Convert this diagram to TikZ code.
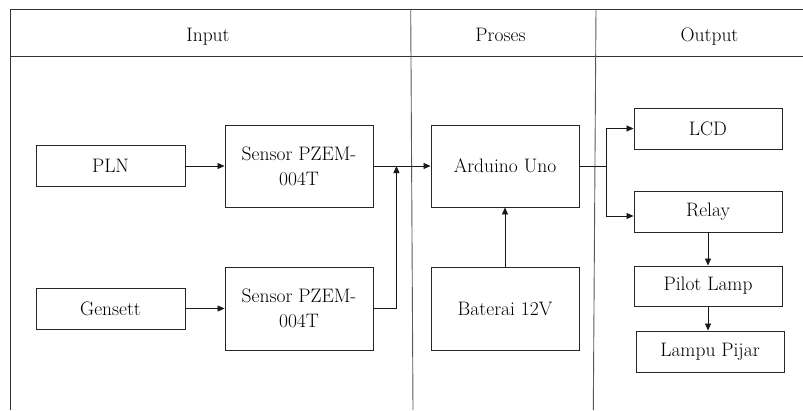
\documentclass[tikz,border=0pt]{standalone}
\usetikzlibrary{arrows.meta}
\begin{document}
\begin{tikzpicture}[x=1pt,y=-1pt,
  box/.style={draw=black!85,line width=0.9pt,rectangle,inner sep=0pt,minimum width=148pt,
    font=\fontsize{19.5}{25}\selectfont,align=center},
  hdr/.style={font=\fontsize{19.5}{25}\selectfont,anchor=base,inner sep=0pt},
  arr/.style={draw=black!90,line width=0.8pt,-{Triangle[length=7pt,width=6pt]}},
  frame/.style={draw=black!80,line width=0.9pt}]
\useasboundingbox (0,0) rectangle (803,410);
% frame
\coordinate (tl) at (10,9);
\coordinate (bl) at (10,410);
\coordinate (tr) at (803,9);
\coordinate (hl) at (10,56);
\coordinate (hr) at (803,56);
\coordinate (v1t) at (410.7,9);
\coordinate (v1b) at (413,410);
\coordinate (v2t) at (596,9);
\coordinate (v2b) at (593.3,410);
\draw[frame] (bl) -- (tl) -- (tr);
\draw[frame] (hl) -- (hr);
\draw[frame,draw=black!65] (v1t) -- (v1b);
\draw[frame,draw=black!65] (v2t) -- (v2b);
% headers
\node[hdr] (hin) at (208,41.5) {Input};
\node[hdr] (hpr) at (500.5,41.5) {Proses};
\node[hdr] (hout) at (709.5,41.5) {Output};
% boxes
\node[box,minimum width=149pt,minimum height=41pt] (pln) at (110.5,166) {PLN};
\node[box,minimum height=82pt] (s1) at (299,166) {Sensor PZEM-\\004T};
\node[box,minimum width=149pt,minimum height=41pt] (gen) at (110.5,308.5) {Gensett};
\node[box,minimum height=83pt] (s2) at (299,308.5) {Sensor PZEM-\\004T};
\node[box,minimum height=82pt] (ard) at (505,166) {Arduino Uno};
\node[box,minimum height=83pt] (bat) at (505,308.5) {Baterai 12V};
\node[box,minimum height=41pt] (lcd) at (708,128.5) {LCD};
\node[box,minimum height=41pt] (relay) at (708,211.5) {Relay};
\node[box,minimum height=40pt] (pilot) at (708,286) {Pilot Lamp};
\node[box,minimum height=41pt] (lampu) at (710,351.5) {Lampu Pijar};
% connectors
\draw[arr] (pln) -- (s1);
\draw[arr] (gen) -- (s2);
\draw[arr] (s1) -- (ard);
\draw[arr] (s2.east) -- ++(23,0) coordinate (j1) -- (j1 |- s1.east);
\draw[arr] (bat) -- (ard);
\draw[arr] (ard.east) -- ++(27,0) coordinate (j2) |- (lcd.west);
\draw[arr] (j2) |- ([yshift=-4.5pt]relay.west);
\draw[arr] (relay.south) -- (pilot.north);
\draw[arr] (pilot.south) -- (pilot.south |- lampu.north);
\end{tikzpicture}
\end{document}
